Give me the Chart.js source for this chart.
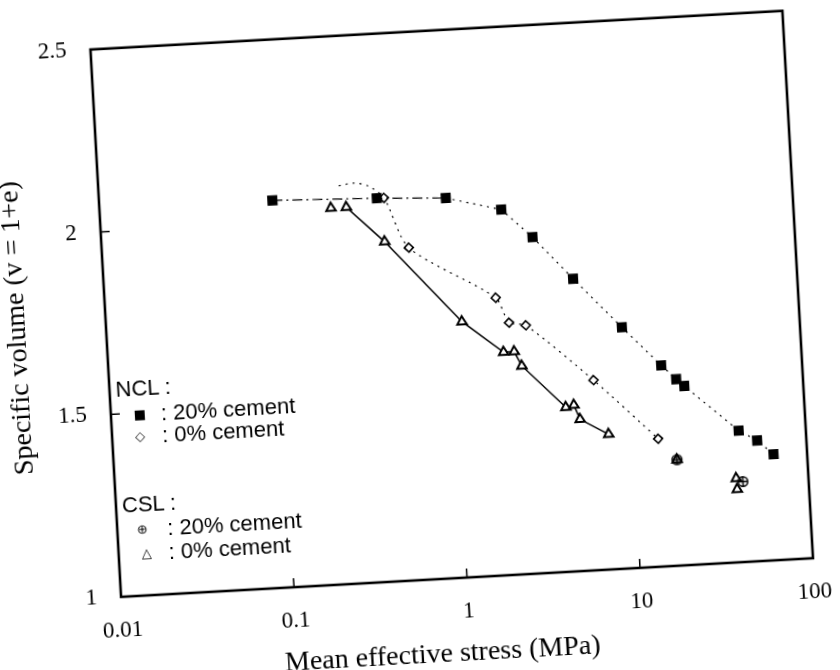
<!DOCTYPE html>
<html lang="en">
<head>
  <meta charset="UTF-8"/>
  <meta name="viewport" content="width=device-width, initial-scale=1.0"/>
  <title>Specific volume vs mean effective stress</title>
  <script src="https://cdn.jsdelivr.net/npm/chart.js"></script>
  <style>
    html, body { margin: 0; background: #fff; overflow: hidden; }
    #wrap { position: absolute; left: 0; top: 0; width: 840px; height: 670px;
            transform: rotate(-3.2deg); transform-origin: 451px 300px; }
    #legend div { position: absolute; font-family: "Liberation Sans", Arial, sans-serif;
                  font-size: 22px; line-height: 22px; white-space: nowrap; color: #000; }
    #legend .mk { font-family: "DejaVu Sans", sans-serif; font-size: 13px; width: 14px; text-align: center; }
    #xtitle { position: absolute; left: 423px; top: 652px; transform: translate(-50%, -50%);
              font-family: "Liberation Serif", "Times New Roman", serif; font-size: 28px;
              white-space: nowrap; color: #000; }
  </style>
</head>
<body>
  <div id="wrap">
    <canvas id="chart" width="840" height="670"></canvas>
    <div id="xtitle">Mean effective stress (MPa)</div>
    <div id="legend">
      <div style="left:111px; top:360px">NCL :</div>
      <div class="mk" style="left:127px; top:386px">■</div>
      <div style="left:155px; top:386px">: 20% cement</div>
      <div class="mk" style="left:126px; top:408px">◇</div>
      <div style="left:155px; top:408px">: 0% cement</div>
      <div style="left:111px; top:476px">CSL :</div>
      <div class="mk" style="left:123px; top:501px">⊕</div>
      <div style="left:155px; top:501px">: 20% cement</div>
      <div class="mk" style="left:126px; top:525px">△</div>
      <div style="left:155px; top:525px">: 0% cement</div>
    </div>
  </div>

  <script>
    // values (stress in MPa, specific volume v = 1+e)
    const ncl20Stress = [0.10, 0.40, 1.0, 2.07, 3.07, 5.1, 9.4, 15.4, 18.6, 20.6, 41, 52, 64];
    const ncl20Volume = [2.06, 2.05, 2.04, 2.00, 1.92, 1.80, 1.66, 1.55, 1.51, 1.49, 1.36, 1.33, 1.29];
    // first three entries are the hand-drawn arc of the dotted curve (no marker there)
    const ncl0Stress  = [0.244, 0.30, 0.36, 0.44, 0.59, 1.80, 2.11, 2.63, 6.2, 14.0];
    const ncl0Volume  = [2.09, 2.095, 2.085, 2.05, 1.91, 1.76, 1.69, 1.68, 1.52, 1.35];
    const ncl0Marker  = [false, false, false, true, true, true, true, true, true, true];
    const csl20Stress = [17.7, 41.7];
    const csl20Volume = [1.29, 1.22];
    const csl0Stress  = [0.216, 0.265, 0.43, 1.13, 1.92, 2.21, 2.42, 4.21, 4.69, 5.04, 7.28, 17.7, 38.3, 38.5];
    const csl0Volume  = [2.03, 2.03, 1.93, 1.70, 1.61, 1.61, 1.57, 1.45, 1.455, 1.415, 1.37, 1.29, 1.23, 1.20];

    const xTicks = [0.01, 0.1, 1, 10, 100];
    const xTickLabels = ['0.01', '0.1', '1', '10', '100'];
    const yTicks = [1, 1.5, 2, 2.5];
    const yTickLabels = ['1', '1.5', '2', '2.5'];

    const pts = (xs, ys) => xs.map((x, i) => ({x: x, y: ys[i]}));

    // circle with a cross for the CSL 20% marker
    function circleCross() {
      const c = document.createElement('canvas');
      c.width = 13; c.height = 13;
      const g = c.getContext('2d');
      g.strokeStyle = '#000'; g.lineWidth = 1.6;
      g.beginPath(); g.arc(6.5, 6.5, 4.8, 0, Math.PI * 2); g.stroke();
      g.beginPath(); g.moveTo(6.5, 1); g.lineTo(6.5, 12); g.moveTo(1, 6.5); g.lineTo(12, 6.5); g.stroke();
      return c;
    }

    // box round the plot and short inward ticks
    const frameTicks = {
      id: 'frameTicks',
      afterDraw(chart) {
        const ctx = chart.ctx, a = chart.chartArea;
        const x = chart.scales.x, y = chart.scales.y;
        ctx.save();
        ctx.strokeStyle = '#000';
        ctx.lineWidth = 1.5;
        xTicks.forEach(v => {
          const px = x.getPixelForValue(v);
          ctx.beginPath(); ctx.moveTo(px, a.bottom); ctx.lineTo(px, a.bottom - 9); ctx.stroke();
        });
        yTicks.forEach(v => {
          const py = y.getPixelForValue(v);
          ctx.beginPath(); ctx.moveTo(a.left, py); ctx.lineTo(a.left + 9, py); ctx.stroke();
        });
        ctx.lineWidth = 2.6;
        ctx.strokeRect(a.left, a.top, a.width, a.height);
        ctx.restore();
      }
    };

    const tickFont = {family: '"Liberation Serif", "Times New Roman", serif', size: 23};
    const titleFont = {family: '"Liberation Serif", "Times New Roman", serif', size: 28};

    new Chart(document.getElementById('chart').getContext('2d'), {
      type: 'scatter',
      data: {
        datasets: [
          {
            label: 'NCL 20% cement',
            data: pts(ncl20Stress, ncl20Volume),
            showLine: true,
            borderColor: '#000', borderWidth: 1.2,
            segment: { borderDash: c => c.p0DataIndex < 2 ? [10, 4, 2, 4] : [2, 5] },
            pointStyle: 'rect', pointRadius: 6.3,
            pointBackgroundColor: '#000', pointBorderColor: '#000'
          },
          {
            label: 'NCL 0% cement',
            data: pts(ncl0Stress, ncl0Volume),
            showLine: true, tension: 0.25,
            borderColor: '#000', borderWidth: 1.2, borderDash: [2, 5],
            pointStyle: 'rectRot', pointBorderWidth: 1.6,
            pointRadius: ncl0Marker.map(m => m ? 4.5 : 0),
            pointBackgroundColor: '#fff', pointBorderColor: '#000'
          },
          {
            label: 'CSL 20% cement',
            data: pts(csl20Stress, csl20Volume),
            showLine: false,
            pointStyle: circleCross(), pointRadius: 6
          },
          {
            label: 'CSL 0% cement',
            data: pts(csl0Stress, csl0Volume),
            showLine: true,
            borderColor: '#000', borderWidth: 1.5,
            segment: { borderColor: c => (c.p0DataIndex >= 1 && c.p1DataIndex <= 10) ? '#000' : 'rgba(0,0,0,0)' },
            pointStyle: 'triangle', pointRadius: 5.5, pointBorderWidth: 2,
            pointBackgroundColor: '#fff', pointBorderColor: '#000'
          }
        ]
      },
      options: {
        responsive: false,
        animation: false,
        layout: { padding: { top: 21, right: 42, left: 0, bottom: 0 } },
        plugins: { legend: { display: false }, tooltip: { enabled: false } },
        scales: {
          x: {
            type: 'logarithmic', min: 0.01, max: 100,
            afterBuildTicks: s => { s.ticks = xTicks.map(v => ({value: v})); },
            afterFit: s => { s.height = 92; },
            ticks: { callback: (v, i) => xTickLabels[i], font: tickFont, color: '#000',
                     padding: 12, maxRotation: 0, autoSkip: false },
            grid: { display: false },
            border: { display: false },
            title: { display: false }
          },
          y: {
            type: 'linear', min: 1, max: 2.5,
            afterBuildTicks: s => { s.ticks = yTicks.map(v => ({value: v})); },
            afterFit: s => { s.width = 105; },
            ticks: { callback: (v, i) => yTickLabels[i], font: tickFont, color: '#000', padding: 16 },
            grid: { display: false },
            border: { display: false },
            title: { display: true, text: 'Specific volume (v = 1+e)', font: titleFont,
                     color: '#000', padding: { top: 0, bottom: 0 } }
          }
        }
      },
      plugins: [frameTicks]
    });
  </script>
</body>
</html>
